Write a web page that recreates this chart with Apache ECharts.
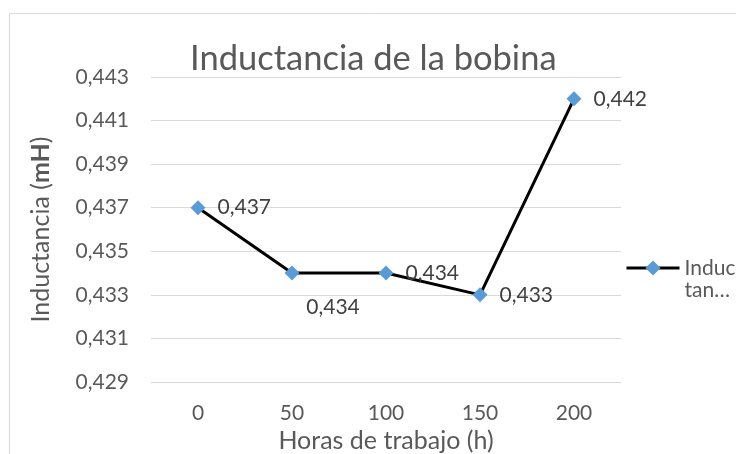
<!DOCTYPE html>
<html>
<head>
<meta charset="utf-8">
<script src="https://cdn.jsdelivr.net/npm/echarts@6/dist/echarts.min.js"></script>
<style>
html,body{margin:0;padding:0;background:#fff;}
#chart{width:736px;height:454px;}
</style>
</head>
<body>
<div id="chart"></div>
<script>
// Horas de trabajo vs inductancia medida
const categories = ['0', '50', '100', '150', '200'];
const inductance = [0.437, 0.434, 0.434, 0.433, 0.442];
const seriesName = 'Inductancia';
const yMin = 0.429, yMax = 0.443, yStep = 0.002;

const FONT = 'Lato, "Open Sans", sans-serif';
const fmt = v => v.toFixed(3).replace('.', ',');

const chart = echarts.init(document.getElementById('chart'), null, {renderer: 'canvas'});

const seriesData = inductance.map((v, i) => {
  if (i === 1) {
    return {value: v, label: {position: 'bottom', offset: [41, 4]}};
  }
  return {value: v};
});

chart.setOption({
  animation: false,
  backgroundColor: '#ffffff',
  graphic: [{
    type: 'rect',
    shape: {x: 9.5, y: 13.5, width: 900, height: 600},
    style: {fill: 'none', stroke: '#d9d9d9', lineWidth: 1},
    silent: true,
    z: -1
  }],
  title: {
    text: 'Inductancia de la bobina',
    top: 36,
    left: 185,
    textStyle: {fontFamily: FONT, fontSize: 34.5, fontWeight: 'normal', color: '#595959'}
  },
  legend: {
    data: [seriesName],
    left: 625,
    top: 235,
    padding: 0,
    itemWidth: 53,
    itemHeight: 19,
    itemGap: 4,
    lineStyle: {width: 3, color: '#000000'},
    // wrapped, truncated series name; blank first line keeps "Induc" level with the marker
    formatter: () => '\nInduc\ntan…',
    textStyle: {fontFamily: FONT, fontSize: 21, color: '#595959', lineHeight: 22}
  },
  grid: {left: 151, right: 115, top: 77, bottom: 72, containLabel: false, outerBoundsMode: 'none'},
  xAxis: {
    type: 'category',
    data: categories,
    boundaryGap: true,
    axisLine: {show: false},
    axisTick: {show: false},
    axisLabel: {fontFamily: FONT, fontSize: 21, color: '#595959', margin: 21},
    name: 'Horas de trabajo (h)',
    nameLocation: 'middle',
    nameGap: 30,
    nameTextStyle: {fontFamily: FONT, fontSize: 25, color: '#595959'}
  },
  yAxis: {
    type: 'value',
    min: yMin,
    max: yMax,
    interval: yStep,
    axisLine: {show: false},
    axisTick: {show: false},
    splitLine: {lineStyle: {color: '#d9d9d9', width: 1}},
    axisLabel: {fontFamily: FONT, fontSize: 21, color: '#595959', margin: 22, formatter: v => fmt(v)},
    name: '{a|Inductancia (}{b|mH}{a|)}',
    nameLocation: 'middle',
    nameGap: 98,
    nameRotate: 90,
    nameTextStyle: {
      rich: {
        a: {fontFamily: FONT, fontSize: 25, color: '#595959'},
        b: {fontFamily: FONT, fontSize: 25, color: '#595959', fontWeight: 'bold'}
      }
    }
  },
  series: [{
    name: seriesName,
    type: 'line',
    data: seriesData,
    symbol: 'diamond',
    symbolSize: 15,
    itemStyle: {color: '#5b9bd5'},
    lineStyle: {color: '#000000', width: 3},
    label: {
      show: true,
      position: 'right',
      distance: 12,
      fontFamily: FONT,
      fontSize: 21,
      color: '#404040',
      formatter: p => fmt(p.value)
    }
  }]
});
</script>
</body>
</html>
